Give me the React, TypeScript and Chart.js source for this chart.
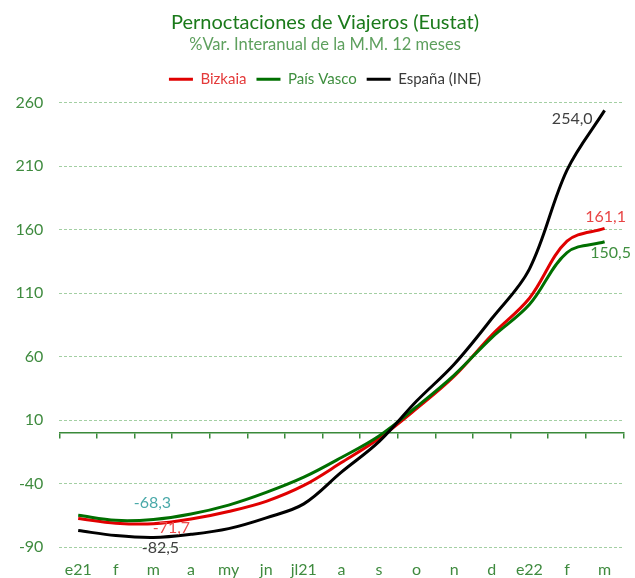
import React, { useEffect, useRef } from "react";
import { Chart, registerables, layouts } from "chart.js";

Chart.register(...registerables);

const months = ["e21", "f", "m", "a", "my", "jn", "jl21", "a", "s", "o", "n", "d", "e22", "f", "m"];
const bizkaia = [-67.5, -71.2, -71.7, -68.0, -62.0, -54.0, -41.5, -23.5, -4.5, 19.0, 44.5, 77.0, 106.0, 151.0, 161.1];
const paisVasco = [-65.0, -69.0, -68.3, -64.0, -57.0, -47.0, -35.0, -19.5, -2.5, 20.5, 45.5, 75.0, 101.0, 142.0, 150.5];
const espana = [-77.0, -81.0, -82.5, -80.0, -75.5, -67.0, -56.0, -31.0, -7.0, 25.0, 54.0, 90.0, 129.0, 207.0, 254.0];
const yTicks = [-90, -40, 10, 60, 110, 160, 210, 260];

const seriesNames = ["Bizkaia", "País Vasco", "España (INE)"];
const lineColors = ["#e00000", "#006f00", "#000000"];
const legendTextColors = ["#e43a3a", "#3f8f3f", "#3a3a3a"];

const FONT = "Lato, 'Noto Sans', sans-serif";
const TICK_GREEN = "#3f8b3f";

// labelled points: dataset index, point index, colour, offset
const pointLabels = [
  { ds: 1, idx: 2, color: "#4aa9a9", dx: -1, dy: -17, align: "center" },
  { ds: 0, idx: 2, color: "#ee4b4b", dx: 18, dy: 4, align: "center" },
  { ds: 2, idx: 2, color: "#404040", dx: 7, dy: 10, align: "center" },
  { ds: 2, idx: 14, color: "#404040", dx: -12, dy: 8, align: "right" },
  { ds: 0, idx: 14, color: "#e84444", dx: 1, dy: -11, align: "center" },
  { ds: 1, idx: 14, color: "#3f8f3f", dx: 6, dy: 11, align: "center" },
];

const fmt = (v: number) => v.toFixed(1).replace(".", ",");

const labelPlugin = {
  id: "pointLabels",
  afterDatasetsDraw(chart: any) {
    const ctx = chart.ctx;
    ctx.save();
    ctx.font = `16px ${FONT}`;
    ctx.textBaseline = "middle";
    for (const l of pointLabels) {
      const meta = chart.getDatasetMeta(l.ds);
      const el = meta.data[l.idx];
      const value = chart.data.datasets[l.ds].data[l.idx] as number;
      ctx.fillStyle = l.color;
      ctx.textAlign = l.align;
      ctx.fillText(fmt(value), el.x + l.dx, el.y + l.dy);
    }
    ctx.restore();
  },
};

const makeSpacer = (position: string, size: number) => ({
  position,
  weight: 10,
  fullSize: false,
  options: {},
  width: 0,
  height: 0,
  left: 0,
  top: 0,
  right: 0,
  bottom: 0,
  isHorizontal() {
    return position === "top" || position === "bottom";
  },
  update(maxWidth: number, maxHeight: number) {
    if (this.isHorizontal()) {
      this.width = maxWidth;
      this.height = size;
    } else {
      this.width = size;
      this.height = maxHeight;
    }
  },
  draw() {},
});

// empty boxes: below the legend and right of the plot area
const spacerPlugin = {
  id: "spacers",
  beforeInit(chart: any) {
    layouts.addBox(chart, makeSpacer("top", 6) as any);
    layouts.addBox(chart, makeSpacer("right", 11.6) as any);
  },
};

export default function App() {
  const ref = useRef<HTMLCanvasElement | null>(null);
  useEffect(() => {
    if (!ref.current) return;
    const seriesData = [bizkaia, paisVasco, espana];
    const chart = new Chart(ref.current, {
      type: "line",
      data: {
        labels: months,
        datasets: seriesData.map((d, i) => ({
          label: seriesNames[i],
          data: d,
          borderColor: lineColors[i],
          backgroundColor: lineColors[i],
          borderWidth: 3,
          pointRadius: 0,
          tension: 0.35,
          fill: false,
          order: 2 - i,
        })),
      },
      options: {
        responsive: false,
        animation: false,
        layout: { padding: { left: 15, right: 0, top: 0, bottom: 0 } },
        plugins: {
          title: {
            display: true,
            text: "Pernoctaciones de Viajeros (Eustat)",
            color: "#1b7a1b",
            font: { family: FONT, size: 20, weight: "normal" },
            padding: { top: 11, bottom: 0 },
          },
          subtitle: {
            display: true,
            text: "%Var. Interanual de la M.M. 12 meses",
            color: "#5ea05e",
            font: { family: FONT, size: 16.5, weight: "normal" },
            padding: { top: 0, bottom: 7 },
          },
          legend: {
            display: true,
            labels: {
              boxWidth: 24,
              boxHeight: 3,
              padding: 10,
              font: { family: FONT, size: 15 },
              generateLabels: () =>
                seriesNames.map((n, i) => ({
                  text: n,
                  fillStyle: lineColors[i],
                  strokeStyle: lineColors[i],
                  lineWidth: 0,
                  fontColor: legendTextColors[i],
                  hidden: false,
                  datasetIndex: i,
                })),
            },
            onClick: () => {},
          },
          tooltip: { enabled: false },
        },
        scales: {
          x: {
            type: "category",
            position: "bottom",
            offset: true,
            grid: { display: false, drawTicks: false },
            border: { display: false },
            afterFit: (scale: any) => {
              scale.height = 31;
            },
            ticks: {
              color: TICK_GREEN,
              font: { family: FONT, size: 16 },
              padding: 13,
              autoSkip: false,
              maxRotation: 0,
            },
          },
          x2: {
            type: "category",
            axis: "x",
            position: { y: 0 },
            offset: true,
            grid: {
              offset: true,
              drawOnChartArea: false,
              drawTicks: true,
              tickLength: 5,
              color: "#3a8a3a",
              lineWidth: 1.5,
            },
            border: { display: true, color: "#3a8a3a", width: 1.5 },
            ticks: { display: false },
          },
          y: {
            min: yTicks[0],
            max: yTicks[yTicks.length - 1],
            afterBuildTicks: (scale: any) => {
              scale.ticks = yTicks.map((v) => ({ value: v }));
            },
            afterFit: (scale: any) => {
              scale.width = 44.4;
            },
            grid: { color: "#a3cfa3", lineWidth: 1, drawTicks: false },
            border: { display: false, dash: [3, 2] },
            ticks: {
              color: TICK_GREEN,
              font: { family: FONT, size: 16 },
              padding: 16,
            },
          },
        },
      },
      plugins: [labelPlugin, spacerPlugin],
    } as any);
    return () => chart.destroy();
  }, []);
  return (
    <div style={{ position: "fixed", left: 0, top: 0, width: 635, height: 578 }}>
      <canvas ref={ref} width={635} height={578} />
    </div>
  );
}
